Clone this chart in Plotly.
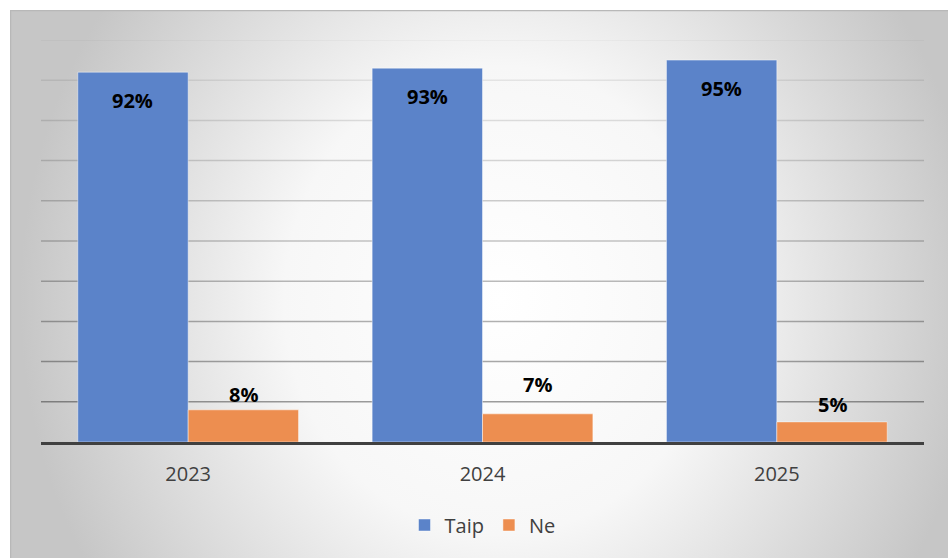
import base64
import plotly.graph_objects as go

# ---- data ----
years = ["2023", "2024", "2025"]
taip = [92, 93, 95]
ne = [8, 7, 5]
series_names = ["Taip", "Ne"]
y_tick_values = [0, 10, 20, 30, 40, 50, 60, 70, 80, 90, 100]

# ---- style ----
W, H = 948, 558
ML, MR, MT, MB = 41, 24, 40, 116
PW, PH = W - ML - MR, H - MT - MB
BARGAP = 0.25
BLUE = "#5B83C9"
ORANGE = "#ED8E50"
FONT = "Open Sans"
ne_label_shift = [15, 29, 17]  # px above bar top (manual placement in original)

bar_px = PW / len(years) * (1 - BARGAP) / 2

fig = go.Figure()
fig.add_trace(go.Bar(x=years, y=taip, name=series_names[0],
                     marker=dict(color=BLUE, line=dict(color="rgba(255,255,255,0.45)", width=1))))
fig.add_trace(go.Bar(x=years, y=ne, name=series_names[1],
                     marker=dict(color=ORANGE, line=dict(color="rgba(255,255,255,0.45)", width=1))))

annotations = []
for i, yr in enumerate(years):
    annotations.append(dict(x=i, y=taip[i], xref="x", yref="y", text=f"<b>{taip[i]}%</b>",
                            showarrow=False, xshift=-bar_px / 2, yshift=-28, yanchor="middle",
                            font=dict(family=FONT, size=20, color="#000000")))
    annotations.append(dict(x=i, y=ne[i], xref="x", yref="y", text=f"<b>{ne[i]}%</b>",
                            showarrow=False, xshift=bar_px / 2, yshift=ne_label_shift[i], yanchor="middle",
                            font=dict(family=FONT, size=20, color="#000000")))

# gradient grid lines (lighter towards top)
shapes = []
for v in y_tick_values[1:]:
    a = 0.38 - 0.34 * (v - 10) / 90
    shapes.append(dict(type="line", xref="paper", yref="y", x0=0, x1=1, y0=v, y1=v,
                       line=dict(color=f"rgba(0,0,0,{a:.3f})", width=1.5), layer="below"))

# chart-area background: radial gray gradient
RX0, RY0 = 10, 10
RW, RH = W - RX0, H - RY0
svg = f'''<svg xmlns="http://www.w3.org/2000/svg" width="{RW}" height="{RH}" viewBox="0 0 {RW} {RH}" preserveAspectRatio="none">
<defs><radialGradient id="g" gradientUnits="userSpaceOnUse" cx="0" cy="0" r="1" gradientTransform="translate(490,290) scale(480,520)">
<stop offset="0" stop-color="#ffffff"/><stop offset="0.45" stop-color="#f7f7f7"/><stop offset="1" stop-color="#c6c6c6"/>
</radialGradient></defs>
<rect x="0" y="0" width="{RW}" height="{RH}" fill="url(#g)"/>
<rect x="0.5" y="0.5" width="{RW + 5}" height="{RH + 5}" fill="none" stroke="#b8b8b8" stroke-width="1.5"/>
</svg>'''
src = "data:image/svg+xml;base64," + base64.b64encode(svg.encode()).decode()

img_x = (RX0 - ML) / PW
img_y = 1 + (MT - RY0) / PH
fig.update_layout(
    images=[dict(source=src, xref="paper", yref="paper", x=img_x, y=img_y,
                 sizex=RW / PW, sizey=RH / PH, xanchor="left", yanchor="top",
                 sizing="stretch", layer="below")],
    width=W, height=H, autosize=False,
    margin=dict(l=ML, r=MR, t=MT, b=MB, pad=0),
    paper_bgcolor="#ffffff", plot_bgcolor="rgba(0,0,0,0)",
    barmode="group", bargap=BARGAP, bargroupgap=0,
    font=dict(family=FONT, color="#404040"),
    xaxis=dict(type="category", range=[-0.5, len(years) - 0.5], showgrid=False, showline=True,
               linecolor="#404040", linewidth=3,
               ticks="", tickfont=dict(family=FONT, size=20, color="#404040"), ticklabelstandoff=12),
    yaxis=dict(range=[0, 100], tickvals=y_tick_values, showticklabels=False, showgrid=False,
               zeroline=False, showline=False),
    legend=dict(orientation="h", x=0.5, xanchor="center", y=-(525 - (MT + PH)) / PH, yanchor="middle",
                font=dict(family=FONT, size=20, color="#404040"), bgcolor="rgba(0,0,0,0)",
                traceorder="normal", itemwidth=30),
    annotations=annotations,
    shapes=shapes,
    showlegend=True,
)

fig.write_html("out.html", config={"displayModeBar": False},
               post_script="document.body.style.margin='0';document.body.style.overflow='hidden';")
